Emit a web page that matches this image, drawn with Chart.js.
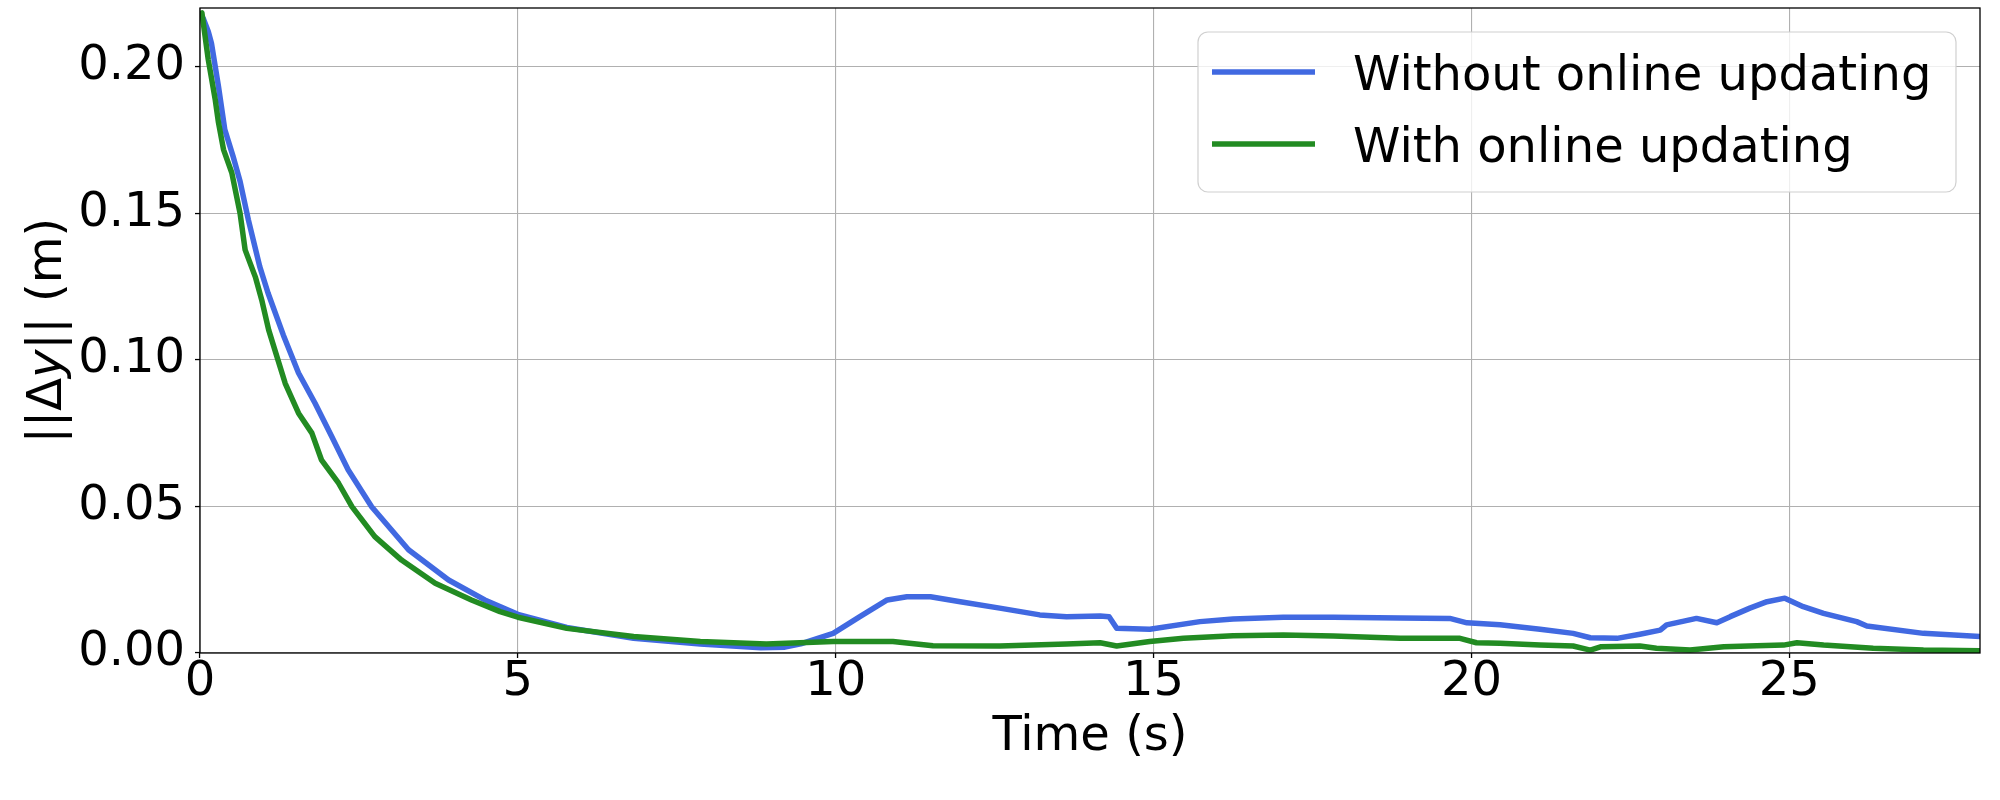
<!DOCTYPE html>
<html>
<head>
<meta charset="utf-8">
<script src="https://cdn.jsdelivr.net/npm/chart.js@4.4.1/dist/chart.umd.min.js"></script>
<style>
html,body{margin:0;padding:0;background:#fff;}
#wrap{width:2000px;height:800px;position:relative;}
</style>
</head>
<body>
<div id="wrap"><canvas id="c"></canvas></div>
<script>
// ---- data ----
const seriesLabels = ["Without online updating", "With online updating"];
const seriesColors = ["#4169e1", "#228b22"];

const timeWithout = [0.00,0.05,0.13,0.18,0.29,0.39,0.52,0.63,0.76,0.94,1.07,1.31,1.55,1.81,2.07,2.33,2.70,3.28,3.91,4.48,5.00,5.77,6.82,7.87,8.82,9.20,9.45,9.96,10.38,10.81,11.12,11.49,11.96,12.58,13.21,13.63,14.16,14.30,14.42,14.94,15.73,16.25,17.04,17.83,18.88,19.66,19.93,20.45,21.08,21.60,21.87,22.29,22.65,22.97,23.07,23.54,23.86,24.07,24.38,24.65,24.93,25.22,25.54,26.06,26.22,27.11,28.00];
const valueWithout = [0.2180,0.2165,0.2120,0.2080,0.1933,0.1785,0.1694,0.1609,0.1478,0.1318,0.1228,0.1085,0.0955,0.0852,0.0739,0.0625,0.0499,0.0352,0.0249,0.0181,0.0132,0.0087,0.0050,0.0031,0.0018,0.0020,0.0031,0.0067,0.0124,0.0181,0.0192,0.0192,0.0175,0.0153,0.0130,0.0124,0.0126,0.0124,0.0084,0.0081,0.0107,0.0116,0.0122,0.0122,0.0119,0.0118,0.0103,0.0096,0.0081,0.0067,0.0052,0.0050,0.0064,0.0078,0.0096,0.0118,0.0103,0.0124,0.0153,0.0175,0.0187,0.0158,0.0135,0.0107,0.0092,0.0067,0.0056];

const timeWith = [0.00,0.03,0.13,0.24,0.29,0.37,0.50,0.63,0.71,0.87,0.97,1.08,1.21,1.34,1.55,1.76,1.91,2.18,2.39,2.75,3.17,3.70,4.27,4.72,5.00,5.77,6.82,7.87,8.91,9.96,10.90,11.53,12.58,13.63,14.16,14.42,14.94,15.47,16.25,17.04,17.83,18.88,19.82,20.08,20.45,21.08,21.60,21.87,22.03,22.65,22.91,23.44,23.97,24.49,24.91,25.12,25.54,26.32,27.11,28.00];
const valueWith = [0.2180,0.2183,0.2024,0.1887,0.1810,0.1717,0.1638,0.1500,0.1375,0.1283,0.1205,0.1102,0.1011,0.0920,0.0818,0.0750,0.0659,0.0579,0.0499,0.0397,0.0317,0.0238,0.0181,0.0141,0.0122,0.0084,0.0056,0.0039,0.0031,0.0039,0.0039,0.0025,0.0024,0.0031,0.0035,0.0024,0.0039,0.0050,0.0059,0.0061,0.0058,0.0050,0.0050,0.0035,0.0033,0.0027,0.0024,0.0010,0.0021,0.0024,0.0016,0.0010,0.0021,0.0025,0.0027,0.0035,0.0027,0.0016,0.0010,0.0008];

const xTicks = [0,5,10,15,20,25];
const yTicks = [0.00,0.05,0.10,0.15,0.20];
const xTitle = "Time (s)";
const yTitleParts = [["||\u0394", false], ["y", true], ["|| (m)", false]];

// ---- chart ----
const FONT = "DejaVu Sans";
const toPts = (ts, vs) => ts.map((t, i) => ({x: t, y: vs[i]}));

const framePlugin = {
  id: 'frame',
  afterDatasetsDraw(chart) {
    const {ctx, chartArea: a} = chart;
    ctx.save();
    ctx.strokeStyle = '#000';
    ctx.lineWidth = 1.3;
    ctx.strokeRect(a.left, a.top, a.right - a.left, a.bottom - a.top);
    // legend
    const bx = 1198, by = 32, bw = 758, bh = 160, r = 10;
    ctx.beginPath();
    ctx.moveTo(bx + r, by);
    ctx.arcTo(bx + bw, by, bx + bw, by + bh, r);
    ctx.arcTo(bx + bw, by + bh, bx, by + bh, r);
    ctx.arcTo(bx, by + bh, bx, by, r);
    ctx.arcTo(bx, by, bx + bw, by, r);
    ctx.closePath();
    ctx.fillStyle = 'rgba(255,255,255,0.8)';
    ctx.fill();
    ctx.strokeStyle = '#d0d0d0';
    ctx.lineWidth = 1.2;
    ctx.stroke();
    const ds = chart.data.datasets;
    const rows = [72, 144];
    ctx.font = '48px "' + FONT + '"';
    ctx.textBaseline = 'alphabetic';
    ctx.textAlign = 'left';
    ds.forEach((d, i) => {
      ctx.strokeStyle = d.borderColor;
      ctx.lineWidth = 5.5;
      ctx.beginPath();
      ctx.moveTo(1212, rows[i]);
      ctx.lineTo(1315, rows[i]);
      ctx.stroke();
      ctx.fillStyle = '#000';
      ctx.fillText(d.label, 1353, rows[i] + 18);
    });
    ctx.restore();
  },
  afterDraw(chart) {
    const {ctx, chartArea: a} = chart;
    ctx.save();
    const normal = '48px "' + FONT + '"';
    const italic = 'oblique 48px "' + FONT + '"';
    let total = 0;
    yTitleParts.forEach(([s, it]) => { ctx.font = it ? italic : normal; total += ctx.measureText(s).width; });
    ctx.translate(61, (a.top + a.bottom) / 2);
    ctx.rotate(-Math.PI / 2);
    ctx.fillStyle = '#000';
    ctx.textBaseline = 'alphabetic';
    ctx.textAlign = 'left';
    let x = -total / 2;
    yTitleParts.forEach(([s, it]) => { ctx.font = it ? italic : normal; ctx.fillText(s, x, 0); x += ctx.measureText(s).width; });
    ctx.restore();
  }
};

new Chart(document.getElementById('c'), {
  type: 'line',
  data: {
    datasets: [
      {label: seriesLabels[0], data: toPts(timeWithout, valueWithout), borderColor: seriesColors[0], backgroundColor: seriesColors[0], borderWidth: 5.5, borderJoinStyle: 'round', pointRadius: 0, tension: 0, order: 1},
      {label: seriesLabels[1], data: toPts(timeWith, valueWith), borderColor: seriesColors[1], backgroundColor: seriesColors[1], borderWidth: 5.5, borderJoinStyle: 'round', pointRadius: 0, tension: 0, order: 0}
    ]
  },
  options: {
    responsive: true,
    maintainAspectRatio: false,
    animation: false,
    devicePixelRatio: 1,
    layout: {padding: {top: 8, right: 20, left: 0, bottom: 0}},
    plugins: {legend: {display: false}, tooltip: {enabled: false}},
    scales: {
      x: {
        type: 'linear', min: 0, max: 28,
        afterBuildTicks(s) { s.ticks = xTicks.map(v => ({value: v})); },
        afterFit(s) { s.height = 147; s.paddingLeft = 0; s.paddingRight = 0; },
        ticks: {color: '#000', font: {family: FONT, size: 48, lineHeight: 1.0}, padding: 1, maxRotation: 0, autoSkip: false, callback: v => String(v)},
        grid: {color: '#b0b0b0', lineWidth: 1.1, tickColor: '#000', tickLength: 5, tickWidth: 1.3},
        border: {display: false},
        title: {display: true, text: xTitle, color: '#000', font: {family: FONT, size: 48, lineHeight: 1.2}, padding: {top: 0, bottom: 34}}
      },
      y: {
        type: 'linear', min: 0, max: 0.22,
        afterBuildTicks(s) { s.ticks = yTicks.map(v => ({value: v})); },
        afterFit(s) { s.width = 200; s.paddingTop = 0; s.paddingBottom = 0; },
        ticks: {color: '#000', font: {family: FONT, size: 48, lineHeight: 1.0}, padding: 10, callback: v => v.toFixed(2)},
        grid: {color: '#b0b0b0', lineWidth: 1.1, tickColor: '#000', tickLength: 5, tickWidth: 1.3},
        border: {display: false}
      }
    }
  },
  plugins: [framePlugin]
});
</script>
</body>
</html>
